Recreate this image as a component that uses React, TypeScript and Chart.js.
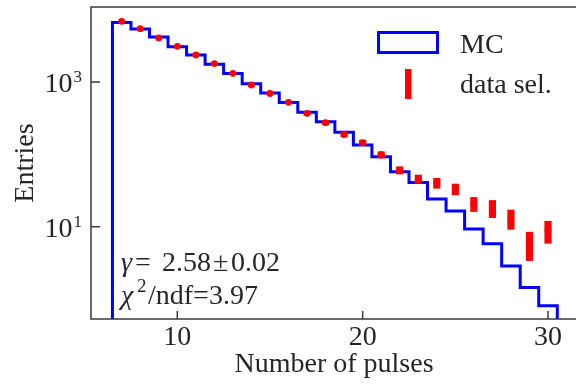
import React, { useEffect, useRef } from "react";
import { Chart, registerables } from "chart.js";

Chart.register(...registerables);

// ---- data ----
const binCenters = [7, 8, 9, 10, 11, 12, 13, 14, 15, 16, 17, 18, 19, 20, 21, 22, 23, 24, 25, 26, 27, 28, 29, 30];
const mcCounts = [6640, 5410, 4190, 3080, 2360, 1760, 1310, 948, 705, 521, 381, 282, 202, 135, 92.7, 57.5, 40.8, 24.2, 16.5, 9.3, 5.82, 2.86, 1.45, 0.81];
const dataCounts = [6900, 5460, 4060, 3110, 2360, 1800, 1320, 909, 693, 524, 369, 274, 188, 145, 98.8, 60.5, 45.8, 40.3, 33.2, 20.8, 18.2, 13.1, 5.9, 8.9];
const dataErrors = [83, 74, 64, 56, 49, 42, 36, 30, 26, 23, 19, 17, 14, 12, 10, 7, 6, 6.3, 5.7, 4.6, 4.85, 3.9, 2.5, 3.0];
const xTicks = [10, 20, 30];
const yTickExponents = [1, 3];
const legendLabels = ["MC", "data sel."];
const xTitle = "Number of pulses";
const yTitle = "Entries";
const fitGamma = "2.58";
const fitGammaErr = "0.02";
const fitChi2 = "3.97";

const FONT = "'Liberation Serif', 'Times New Roman', serif";
const TEXT = "#262626";
const AXIS = "#3a3a3a";
const BLUE = "#0000ff";
const RED = "#ff0000";

const overlay = {
  id: "overlay",
  afterDraw(chart: any) {
    const { ctx, chartArea: a, scales } = chart;
    const xs = scales.x;
    const ys = scales.y;
    ctx.save();
    // frame (right spine lies outside the picture)
    ctx.strokeStyle = AXIS;
    ctx.lineWidth = 1.5;
    ctx.beginPath();
    ctx.moveTo(a.right + 2, a.top);
    ctx.lineTo(a.left, a.top);
    ctx.lineTo(a.left, a.bottom);
    ctx.lineTo(a.right + 2, a.bottom);
    ctx.stroke();
    // x ticks + labels
    ctx.fillStyle = TEXT;
    ctx.font = `28px ${FONT}`;
    ctx.textBaseline = "alphabetic";
    ctx.textAlign = "center";
    for (const t of xTicks) {
      const px = xs.getPixelForValue(t);
      ctx.beginPath();
      ctx.moveTo(px, a.bottom);
      ctx.lineTo(px, a.bottom - 8);
      ctx.stroke();
      ctx.fillText(String(t), px, 345);
    }
    // y ticks + labels
    for (const e of yTickExponents) {
      const py = ys.getPixelForValue(Math.pow(10, e));
      ctx.beginPath();
      ctx.moveTo(a.left, py);
      ctx.lineTo(a.left + 9, py);
      ctx.stroke();
      ctx.font = `17px ${FONT}`;
      ctx.textAlign = "right";
      const supW = ctx.measureText(String(e)).width;
      ctx.fillText(String(e), a.left - 9, py);
      ctx.font = `28px ${FONT}`;
      ctx.fillText("10", a.left - 9 - supW - 1, py + 10);
    }
    // axis titles
    ctx.textAlign = "center";
    ctx.font = `28px ${FONT}`;
    ctx.fillText(xTitle, 334, 372);
    ctx.save();
    ctx.translate(33, 163);
    ctx.rotate(-Math.PI / 2);
    ctx.fillText(yTitle, 0, 0);
    ctx.restore();

    // legend
    ctx.strokeStyle = BLUE;
    ctx.lineWidth = 3;
    ctx.strokeRect(378.5, 32.5, 59, 20);
    ctx.fillStyle = RED;
    ctx.fillRect(405, 69, 6.5, 30);
    ctx.fillStyle = TEXT;
    ctx.textAlign = "left";
    ctx.font = `28px ${FONT}`;
    ctx.fillText(legendLabels[0], 460, 53);
    ctx.fillText(legendLabels[1], 460, 93);

    // fit annotation
    ctx.font = `italic 28px ${FONT}`;
    ctx.fillText("\u03b3", 121, 271);
    ctx.font = `28px ${FONT}`;
    ctx.fillText("=", 135, 271);
    ctx.fillText(fitGamma, 162, 271);
    ctx.fillText("\u00b1", 213, 271);
    ctx.fillText(fitGammaErr, 231, 271);

    ctx.font = `italic 28px ${FONT}`;
    ctx.fillText("\u03c7", 121, 304);
    ctx.font = `19px ${FONT}`;
    ctx.fillText("2", 137, 292);
    ctx.font = `28px ${FONT}`;
    ctx.fillText(`/ndf=${fitChi2}`, 148, 304);
    ctx.restore();
  },
};

export default function App() {
  const ref = useRef<HTMLCanvasElement | null>(null);
  useEffect(() => {
    if (!ref.current) return;
    const last = mcCounts.length - 1;
    const mcLine = [
      { x: binCenters[0] - 0.5, y: 0.01 },
      ...binCenters.map((c, i) => ({ x: c - 0.5, y: mcCounts[i] })),
      { x: binCenters[last] + 0.5, y: mcCounts[last] },
      { x: binCenters[last] + 0.5, y: 0.01 },
    ];
    const errBars = binCenters.map((c, i) => ({ x: c, y: [dataCounts[i] - dataErrors[i], dataCounts[i] + dataErrors[i]] }));
    const dots = binCenters.map((c, i) => ({ x: c, y: dataCounts[i] }));
    const chart = new Chart(ref.current, {
      type: "line",
      data: {
        datasets: [
          {
            type: "scatter",
            label: "dots",
            data: dots,
            showLine: false,
            pointRadius: 3.4,
            pointBackgroundColor: RED,
            pointBorderWidth: 0,
            order: 0,
          } as any,
          {
            type: "bar",
            label: legendLabels[1],
            data: errBars,
            backgroundColor: RED,
            borderWidth: 0,
            barThickness: 6.5,
            order: 1,
          } as any,
          {
            type: "line",
            label: legendLabels[0],
            data: mcLine,
            stepped: "before",
            borderColor: BLUE,
            borderWidth: 3,
            pointRadius: 0,
            fill: false,
            order: 3,
          } as any,
        ],
      },
      options: {
        responsive: false,
        animation: false,
        layout: { autoPadding: false, padding: { top: 7, right: 0, left: 0, bottom: 0 } },
        plugins: { legend: { display: false }, tooltip: { enabled: false } },
        scales: {
          x: {
            type: "linear",
            min: 5.344,
            max: 31.51,
            offset: false,
            ticks: { display: false },
            grid: { display: false },
            border: { display: false },
            afterFit: (s: any) => {
              s.height = 65;
            },
          },
          y: {
            type: "logarithmic",
            min: 0.53,
            max: 10880,
            ticks: { display: false },
            grid: { display: false },
            border: { display: false },
            afterFit: (s: any) => {
              s.width = 91;
            },
          },
        },
      } as any,
      plugins: [overlay],
    });
    return () => chart.destroy();
  }, []);
  return (
    <div style={{ position: "absolute", left: 0, top: 0, width: 576, height: 384, background: "#fff" }}>
      <canvas ref={ref} width={576} height={384} style={{ display: "block" }} />
    </div>
  );
}
